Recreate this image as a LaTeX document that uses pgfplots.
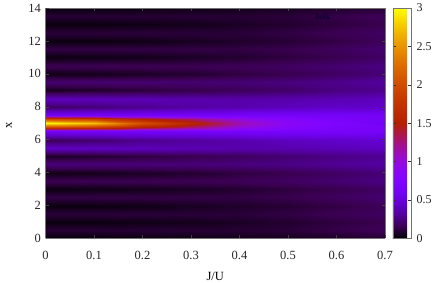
\documentclass[border=0pt]{standalone}
\usepackage{fontspec}
\setmainfont{Liberation Serif}
\usepackage{pgfplots}
\pgfplotsset{compat=1.18}
\begin{document}
\begin{tikzpicture}[x=1pt,y=1pt]
\useasboundingbox (0,0) rectangle (436,283);
\begin{axis}[
  at={(45.5pt,44.5pt)}, anchor=origin,
  scale only axis, width=339.5pt, height=230.5pt,
  view={0}{90},
  xmin=0, xmax=0.7, ymin=0, ymax=14,
  xtick={0,0.1,...,0.7}, ytick={0,2,...,14},
  xticklabels={0,0.1,0.2,0.3,0.4,0.5,0.6,0.7},
  /pgf/number format/assume math mode=true,
  tick align=inside, tick style={black!75, line width=0.5pt}, major tick length=3pt,
  axis line style={black!55, line width=0.6pt},
  axis on top,
  every tick label/.append style={font=\fontsize{12.5}{14}\selectfont, black!85},
  xticklabel style={yshift=-9pt},
  yticklabel style={xshift=-1pt},
  label style={font=\fontsize{12.5}{14}\selectfont},
  xlabel={J/U}, ylabel={x},
  xlabel style={at={(axis description cs:0.5,0)}, anchor=north, yshift=-30pt},
  ylabel style={at={(axis description cs:0,0.49)}, anchor=south, yshift=30pt},
  colormap={pm3d}{rgb=(0,0,0) rgb=(.2236,.0001,.309) rgb=(.316,.001,.588) rgb=(.387,.003,.809) rgb=(.447,.008,.951) rgb=(.5,.0156,1) rgb=(.548,.027,.951) rgb=(.592,.043,.809) rgb=(.632,.064,.588) rgb=(.671,.091,.309) rgb=(.707,.125,0) rgb=(.742,.166,0) rgb=(.775,.216,0) rgb=(.806,.275,0) rgb=(.837,.343,0) rgb=(.866,.422,0) rgb=(.894,.512,0) rgb=(.922,.614,0) rgb=(.949,.729,0) rgb=(.975,.857,0) rgb=(1,1,0)},
  point meta min=0, point meta max=3,
  colorbar,
  colorbar style={
    at={(1.0236,0)}, anchor=south west,
    width=18pt, height=230.5pt,
    scale only axis,
    ytick={0,0.5,...,3}, yticklabels={0,0.5,1,1.5,2,2.5,3},
    ytick pos=both, yticklabel pos=right,
    tick align=inside, major tick length=3pt,
    tick style={black!80, line width=0.5pt},
    axis line style={black!55, line width=0.6pt},
    yticklabel style={font=\fontsize{12}{14}\selectfont, black!85, xshift=2pt},
    /pgf/number format/assume math mode=true,
  },
]
\addplot3[surf, shader=interp, mesh/cols=8, mesh/ordering=x varies] coordinates {
(0,0,.02)(.1,0,.02)(.2,0,.03)(.3,0,.04)(.4,0,.05)(.5,0,.06)(.6,0,.08)(.7,0,.1)
(0,.5,.1)(.1,.5,.1)(.2,.5,.1)(.3,.5,.1)(.4,.5,.1)(.5,.5,.11)(.6,.5,.14)(.7,.5,.17)
(0,1,.03)(.1,1,.03)(.2,1,.04)(.3,1,.05)(.4,1,.07)(.5,1,.09)(.6,1,.12)(.7,1,.15)
(0,1.5,.11)(.1,1.5,.11)(.2,1.5,.11)(.3,1.5,.11)(.4,1.5,.11)(.5,1.5,.13)(.6,1.5,.16)(.7,1.5,.19)
(0,2,.03)(.1,2,.03)(.2,2,.04)(.3,2,.06)(.4,2,.08)(.5,2,.1)(.6,2,.13)(.7,2,.17)
(0,2.5,.13)(.1,2.5,.13)(.2,2.5,.13)(.3,2.5,.13)(.4,2.5,.13)(.5,2.5,.15)(.6,2.5,.18)(.7,2.5,.22)
(0,3,.03)(.1,3,.04)(.2,3,.05)(.3,3,.07)(.4,3,.09)(.5,3,.12)(.6,3,.15)(.7,3,.19)
(0,3.5,.16)(.1,3.5,.16)(.2,3.5,.16)(.3,3.5,.16)(.4,3.5,.17)(.5,3.5,.19)(.6,3.5,.22)(.7,3.5,.26)
(0,4,.04)(.1,4,.05)(.2,4,.07)(.3,4,.09)(.4,4,.12)(.5,4,.15)(.6,4,.19)(.7,4,.23)
(0,4.5,.24)(.1,4.5,.24)(.2,4.5,.24)(.3,4.5,.24)(.4,4.5,.25)(.5,4.5,.27)(.6,4.5,.3)(.7,4.5,.33)
(0,5,.07)(.1,5,.09)(.2,5,.12)(.3,5,.15)(.4,5,.18)(.5,5,.22)(.6,5,.26)(.7,5,.29)
(0,5.5,.42)(.1,5.5,.41)(.2,5.5,.4)(.3,5.5,.38)(.4,5.5,.36)(.5,5.5,.37)(.6,5.5,.39)(.7,5.5,.42)
(0,6,.17)(.1,6,.21)(.2,6,.28)(.3,6,.32)(.4,6,.36)(.5,6,.41)(.6,6,.44)(.7,6,.46)
(0,6.5,.64)(.1,6.5,.65)(.2,6.5,.66)(.3,6.5,.66)(.4,6.5,.68)(.5,6.5,.68)(.6,6.5,.67)(.7,6.5,.66)
(0,6.75,2)(.1,6.75,1.9)(.2,6.75,1.55)(.3,6.75,1.3)(.4,6.75,1)(.5,6.75,.8)(.6,6.75,.7)(.7,6.75,.66)
(0,7,3)(.1,7,2.75)(.2,7,2.05)(.3,7,1.6)(.4,7,1.15)(.5,7,.88)(.6,7,.74)(.7,7,.62)
(0,7.25,2)(.1,7.25,1.9)(.2,7.25,1.55)(.3,7.25,1.3)(.4,7.25,1)(.5,7.25,.8)(.6,7.25,.7)(.7,7.25,.64)
(0,7.5,.62)(.1,7.5,.63)(.2,7.5,.63)(.3,7.5,.64)(.4,7.5,.65)(.5,7.5,.66)(.6,7.5,.65)(.7,7.5,.64)
(0,8,.19)(.1,8,.23)(.2,8,.28)(.3,8,.33)(.4,8,.36)(.5,8,.4)(.6,8,.43)(.7,8,.44)
(0,8.5,.4)(.1,8.5,.39)(.2,8.5,.38)(.3,8.5,.36)(.4,8.5,.35)(.5,8.5,.36)(.6,8.5,.38)(.7,8.5,.41)
(0,9,.06)(.1,9,.08)(.2,9,.11)(.3,9,.14)(.4,9,.17)(.5,9,.2)(.6,9,.25)(.7,9,.28)
(0,9.5,.22)(.1,9.5,.22)(.2,9.5,.22)(.3,9.5,.22)(.4,9.5,.23)(.5,9.5,.25)(.6,9.5,.28)(.7,9.5,.32)
(0,10,.04)(.1,10,.05)(.2,10,.07)(.3,10,.09)(.4,10,.12)(.5,10,.15)(.6,10,.19)(.7,10,.23)
(0,10.5,.16)(.1,10.5,.16)(.2,10.5,.16)(.3,10.5,.16)(.4,10.5,.17)(.5,10.5,.19)(.6,10.5,.22)(.7,10.5,.26)
(0,11,.03)(.1,11,.04)(.2,11,.05)(.3,11,.07)(.4,11,.09)(.5,11,.12)(.6,11,.15)(.7,11,.19)
(0,11.5,.13)(.1,11.5,.13)(.2,11.5,.13)(.3,11.5,.13)(.4,11.5,.13)(.5,11.5,.15)(.6,11.5,.18)(.7,11.5,.22)
(0,12,.03)(.1,12,.03)(.2,12,.04)(.3,12,.06)(.4,12,.08)(.5,12,.1)(.6,12,.13)(.7,12,.17)
(0,12.5,.11)(.1,12.5,.11)(.2,12.5,.11)(.3,12.5,.11)(.4,12.5,.11)(.5,12.5,.13)(.6,12.5,.16)(.7,12.5,.19)
(0,13,.03)(.1,13,.03)(.2,13,.04)(.3,13,.05)(.4,13,.07)(.5,13,.09)(.6,13,.12)(.7,13,.15)
(0,13.5,.1)(.1,13.5,.1)(.2,13.5,.1)(.3,13.5,.1)(.4,13.5,.1)(.5,13.5,.11)(.6,13.5,.14)(.7,13.5,.17)
(0,14,.02)(.1,14,.02)(.2,14,.03)(.3,14,.04)(.4,14,.05)(.5,14,.06)(.6,14,.08)(.7,14,.1)
};
\node[font=\fontsize{8}{9}\selectfont, text=black!85!blue, anchor=center] at (axis cs:0.572,13.45) {bulk};
\end{axis}
\end{tikzpicture}
\end{document}
